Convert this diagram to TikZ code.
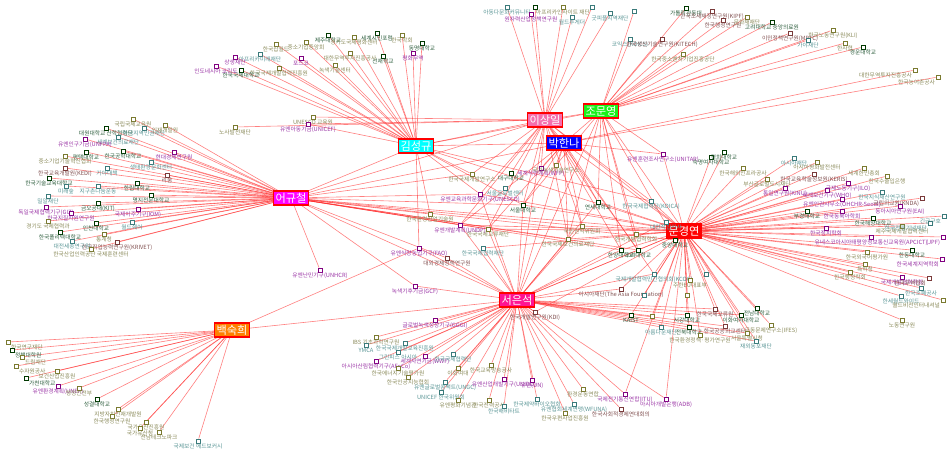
\documentclass[tikz,border=0pt]{standalone}
\usepackage{fontspec}
\setmainfont{Noto Sans CJK KR}
\usepackage{xcolor}
\usepackage{tikz}
\usetikzlibrary{positioning}
\pgfdeclarelayer{bg}
\pgfsetlayers{bg,main}
\definecolor{hubls}{HTML}{F56FAE}
\definecolor{hubmo}{HTML}{1AF01A}
\definecolor{hubks}{HTML}{00FFFF}
\definecolor{hubph}{HTML}{0000FF}
\definecolor{hubeg}{HTML}{FF00FF}
\definecolor{hubmk}{HTML}{FF0000}
\definecolor{hubse}{HTML}{FF1493}
\definecolor{hubbs}{HTML}{FF8000}
\definecolor{sqdg}{HTML}{003800}
\definecolor{sqol}{HTML}{7A7A30}
\definecolor{sqtl}{HTML}{3A7A7A}
\definecolor{sqpu}{HTML}{800080}
\definecolor{sqbr}{HTML}{7A3A3A}
\definecolor{txdg}{HTML}{2F5F3F}
\definecolor{txol}{HTML}{8A8A5A}
\definecolor{txtl}{HTML}{5A9595}
\definecolor{txpu}{HTML}{9A35A5}
\definecolor{txbr}{HTML}{805050}
\definecolor{linkred}{HTML}{FF2A2A}

\begin{document}
\begin{tikzpicture}[
  x=0.75pt, y=-0.75pt,
  hub/.style={draw=red, line width=1.1pt, text=white, inner sep=1.4pt, minimum height=10.5pt, font=\fontsize{8.4}{9}\selectfont},
  leaf/.style={draw, fill=white, minimum size=3pt, inner sep=0pt, line width=0.6pt, label distance=0pt},
  lbl/.style={font=\fontsize{4.3}{4.6}\selectfont, inner sep=0.3pt},
  dg/.style={leaf, draw=sqdg, label={[lbl, text=txdg]below:#1}},
  ol/.style={leaf, draw=sqol, label={[lbl, text=txol]below:#1}},
  tl/.style={leaf, draw=sqtl, label={[lbl, text=txtl]below:#1}},
  pu/.style={leaf, draw=sqpu, label={[lbl, text=txpu]below:#1}},
  br/.style={leaf, draw=sqbr, label={[lbl, text=txbr]below:#1}},
  conn/.style={draw=linkred, draw opacity=0.6, line width=0.45pt},
]
\useasboundingbox (0,0) rectangle (950,454);

% people
\node[hub, fill=hubls] (ls) at (545,120) {이상일};
\node[hub, fill=hubmo] (mo) at (601,111) {조문영};
\node[hub, fill=hubks] (ks) at (416,146) {김성규};
\node[hub, fill=hubph] (ph) at (564,143) {박한나};
\node[hub, fill=hubeg] (eg) at (291,198) {어규철};
\node[hub, fill=hubmk] (mk) at (684,231) {문경연};
\node[hub, fill=hubse] (se) at (517,300) {서은석};
\node[hub, fill=hubbs] (bs) at (232,330) {백숙희};

% top left
\node[dg=제주대학교] (jeju) at (328,35) {};
\node[ol=경기도국제평화센터] (gpc) at (354,37) {};
\node[dg=세계시민포럼] (wcf) at (377,33) {};
\node[ol=한국학회] (hkh) at (402,35) {};
\node[dg=동명대학교] (dm) at (422,43) {};
\node[pu=평화무역] (pw) at (413,53) {};
\node[dg=선재학교] (sj) at (383,56) {};
\node[ol=대한무역투자진흥공사] (kotra) at (350,53) {};
\node[ol=녹색기술센터] (gtc) at (335,65) {};
\node[ol=중소기업중앙회] (kbiz) at (306,42) {};
\node[ol=한국잡월드] (job) at (276,44) {};
\node[pu=포스코] (posco) at (301,58) {};
\node[tl=아프리카미래재단] (afr) at (260,54) {};
\node[ol=한국국제개발협력진흥원] (kodi) at (279,68) {};
\node[dg=한국국제대학교] (kgu) at (241,70) {};
\node[pu=상생재단] (ssf) at (235,57) {};
\node[pu=인도네시아 코린도] (kor) at (216,66) {};
\node[ol=UNESCO 교육원] (unesco) at (313,117) {};
\node[pu=유엔아동기금(UNICEF)] (unicef) at (308,124) {};
\node[ol=노사발전재단] (nosa) at (235,127) {};

% top middle
\node[tl=아동다문화커뮤니티] (adc) at (507,7) {};
\node[dg=] (hpf) at (535,7) {};
\node[pu=원자력산업정책연구원] (nipa) at (531,14) {};
\node[ol=아프리카인사이트 재단] (afrf) at (563,7) {};
\node[tl=월드투게더] (wt) at (572,17) {};
\node[tl=] (hwj) at (592,7) {};
\node[tl=굿피플지역재단] (gp) at (610,13) {};
\node[tl=] (gpd) at (634,11) {};

% top right
\node[tl=코익스(KOICS)] (koics) at (630,39) {};
\node[br=한국생산기술연구원(KITECH)] (kitech) at (662,39) {};
\node[ol=한국중소벤처기업진흥공단] (kosme) at (683,54) {};
\node[dg=가톨릭관동대] (cku) at (686,8) {};
\node[br=한국조세재정연구원(KIPF)] (kipf) at (712,11) {};
\node[br=한국행정연구원] (kipa) at (723,20) {};
\node[ol=문화재재단] (cha) at (747,17) {};
\node[dg=고려대학교 중앙의료원] (kumc) at (772,22) {};
\node[br=이민정책연구원(MRTC)] (mrtc) at (790,33) {};
\node[tl=가야재단] (gaya) at (808,40) {};
\node[ol=한국노동연구원(KLI)] (kli) at (833,30) {};
\node[ol=한사협] (ksa) at (845,43) {};
\node[dg=경운대학교] (gyu) at (863,47) {};
\node[leaf, draw=sqol, label={[lbl, text=txol]below left:대한무역투자진흥공사}] (kotra2) at (915,70) {};
\node[leaf, draw=sqol, label={[lbl, text=txol]below left:한국농어촌공사}] (krc) at (938,77) {};

% left
\node[ol=국립국제교육원] (kiec) at (133,119) {};
\node[dg=대원대학교 산학협력단] (dw) at (106,128) {};
\node[tl=한국지역인권재단] (hjr) at (144,128) {};
\node[ol=인재개발원] (idi) at (165,125) {};
\node[tl=세계보건의료재단] (wh) at (118,137) {};
\node[pu=유엔인구기금(UNFPA)] (unfpa) at (85,139) {};
\node[dg=평택대학교] (kpu) at (86,152) {};
\node[dg=한국공학대학교] (tuk) at (123,151) {};
\node[pu=현대경제연구원] (hri) at (174,152) {};
\node[ol=중소기업기술혁신협회] (smba) at (65,156) {};
\node[tl=생태환경문화센터] (ecoc) at (151,162) {};
\node[br=한국교육개발원(KEDI)] (kedi) at (65,168) {};
\node[tl=기아대책] (kfhi) at (107,168) {};
\node[dg=한국기술교육대학교] (ktech) at (49,178) {};
\node[br=리움] (leeum) at (167,175) {};
\node[tl=지구촌나눔운동] (gcs) at (98,186) {};
\node[tl=미래숲] (mirae) at (66,186) {};
\node[dg=한림대학교] (hallym) at (137,183) {};
\node[tl=밀알재단] (miral) at (48,196) {};
\node[dg=명지전문대학교] (mjc) at (151,195) {};
\node[dg=금오공대(KIT)] (kit) at (98,203) {};
\node[pu=독일국제협력기구(GIZ)] (giz) at (46,207) {};
\node[pu=한국지질자원연구원] (kigam) at (71,213) {};
\node[pu=국제이주기구(IOM)] (iom) at (138,209) {};
\node[ol=경기도 국제협력과] (ggi) at (48,221) {};
\node[dg=인천대학교] (inu) at (96,223) {};
\node[tl=월드쉐어] (ws) at (132,222) {};
\node[dg=한국폴리텍대학교] (poly) at (60,232) {};
\node[ol=통계청] (kostat) at (104,234) {};
\node[br=한국직업능력연구원(KRIVET)] (krivet) at (117,242) {};
\node[tl=대전세종연구원] (djs) at (72,241) {};
\node[ol=한국산업인력공단 국제훈련센터] (hrd) at (91,249) {};

% bottom left
\node[leaf, draw=sqol, label={[lbl, text=txol]below right:한국연구재단}] (nrf) at (8,342) {};
\node[leaf, draw=sqdg, label={[lbl, text=txdg]below right:정책대학원}] (gsp) at (12,350) {};
\node[leaf, draw=sqol, label={[lbl, text=txol]below right:드림재단}] (dream) at (22,357) {};
\node[leaf, draw=sqol, label={[lbl, text=txol]below right:수자원공사}] (kwater) at (16,366) {};
\node[ol=보건산업진흥원] (khidi) at (57,371) {};
\node[leaf, draw=sqdg, label={[lbl, text=txdg]below right:가천대학교}] (gachon) at (26,378) {};
\node[pu=유엔환경계획(UNEP)] (unep) at (58,386) {};
\node[ol=행정안전부] (mois) at (79,388) {};
\node[dg=성결대학교] (sgu) at (97,399) {};
\node[ol=지방자치인재개발원] (lodi) at (118,409) {};
\node[ol=한국행정연구원] (kipa2) at (112,416) {};
\node[ol=국가유산진흥원] (khf) at (146,422) {};
\node[ol=국가유산청] (khs) at (140,428) {};
\node[ol=전남테크노파크] (jtp) at (159,432) {};
\node[tl=국제보건 에드보커시] (gha) at (198,441) {};

% bottom middle
\node[pu=글로벌녹색성장기구(GGGI)] (gggi) at (435,320) {};
\node[ol=IBS 기초과학연구원] (ibs) at (376,337) {};
\node[tl=YMCA] (ymca) at (366,345) {};
\node[tl=한국국제개발교육진흥원] (kidep) at (405,343) {};
\node[tl=그린피스 아시아] (gpa) at (398,352) {};
\node[pu=세계자연기금(WWF)] (wwf) at (425,356) {};
\node[pu=아시아산림협력기구(AFoCo)] (afoco) at (376,361) {};
\node[tl=한국국제협력단] (koica2) at (453,354) {};
\node[ol=이화여대] (ewha) at (458,368) {};
\node[ol=한국에너지기술평가원] (ketep) at (398,368) {};
\node[ol=한국인공지능협회] (kaia) at (408,377) {};
\node[tl=유엔글로벌콤팩트(UNGC)] (ungc) at (445,382) {};
\node[tl=UNICEF 한국위원회] (unicefk) at (441,392) {};
\node[br=한국개발연구원(KDI)] (kdi) at (535,312) {};
\node[ol=한국교육방송공사] (ebs) at (491,365) {};
\node[pu=유엔산업개발기구(UNIDO)] (unido) at (504,379) {};
\node[pu=유엔(UN)] (un) at (532,380) {};
\node[ol=한국전력공사] (kepco) at (489,400) {};
\node[tl=한국해비타트] (habitat) at (504,406) {};
\node[tl=한국제약바이오협회] (kpbma) at (537,399) {};
\node[ol=환경운동연합] (kfem) at (583,389) {};
\node[tl=유엔협회세계연맹(WFUNA)] (wfuna) at (574,404) {};
\node[ol=한국우편사업진흥원] (kpost) at (565,413) {};
\node[ol=유엔평화기념관] (unpm) at (458,400) {};
\node[br=한국사회적경제연대회의] (kseri) at (621,409) {};
\node[pu=국제전기통신연합(ITU)] (itu) at (625,394) {};
\node[pu=아시아개발은행(ADB)] (adb) at (666,399) {};

% center
\node[pu=유엔훈련조사연구소(UNITAR)] (unitar) at (663,154) {};
\node[dg=숙명여자대학교] (smwu) at (711,157) {};
\node[pu=세계식량계획(WFP)] (wfp) at (541,168) {};
\node[ol=국가녹색기술연구소] (ngtc) at (556,165) {};
\node[dg=대구대학교] (dgu) at (511,173) {};
\node[ol=한국국제개발연구소] (kidi) at (472,174) {};
\node[tl=서울글로벌센터] (sgc) at (505,188) {};
\node[pu=유엔교육과학문화기구(UNESCO)] (unesco2) at (480,194) {};
\node[dg=서울대학교] (snu) at (523,205) {};
\node[dg=연세대학교] (yonsei) at (598,202) {};
\node[tl=한국국제협력단(KOICA)] (koica) at (651,201) {};
\node[tl=대한적십자사] (redc) at (666,222) {};
\node[ol=국민권익위원회] (acrc) at (582,226) {};
\node[ol=한국국제교류재단] (kf) at (488,229) {};
\node[ol=한국국제보건의료재단] (kofih) at (568,239) {};
\node[ol=한국개발협력학회] (kadc) at (636,234) {};
\node[dg=중앙대학교] (cau) at (675,240) {};
\node[dg=한양대학교] (hyu) at (621,250) {};
\node[dg=고려대학교] (ku) at (638,250) {};
\node[tl=한국국제협력재단] (kicf) at (483,248) {};
\node[ol=한국환경산업기술원] (keiti) at (430,214) {};
\node[pu=유엔개발계획(UNDP)] (undp) at (460,225) {};
\node[pu=유엔식량농업기구(FAO)] (fao) at (419,248) {};
\node[br=대외경제정책연구원] (kiep) at (447,258) {};
\node[pu=유엔난민기구(UNHCR)] (unhcr) at (320,270) {};
\node[pu=녹색기후기금(GCF)] (gcf) at (415,286) {};
\node[tl=국제개발협력민간협의회(KCOC)] (kcoc) at (654,274) {};
\node[ol=주한EU대표부] (euk) at (690,280) {};
\node[tl=] (kfa) at (706,274) {};
\node[br=아시아재단(The Asia Foundation)] (asiaf) at (621,289) {};
\node[tl=] (tlc) at (644,295) {};
\node[ol=] (olc) at (687,295) {};

% bottom right
\node[dg=KAIST] (kaist) at (631,315) {};
\node[ol=] (olb) at (652,316) {};
\node[dg=서강대학교] (sogang) at (687,315) {};
\node[dg=전북대학교] (jbnu) at (689,327) {};
\node[tl=아름다운재단] (beauty) at (661,327) {};
\node[ol=한국환경정책·평가연구원] (kei) at (700,335) {};
\node[br=한국국제교류원] (kie) at (715,309) {};
\node[dg=전남대학교] (jnu) at (757,308) {};
\node[dg=이화여자대학교] (ewha2) at (741,315) {};
\node[br=한국공공외교센터] (kpd) at (725,326) {};
\node[ol=극동문제연구소(IFES)] (ifes) at (771,325) {};
\node[ol=서울특별시청] (seoul) at (747,333) {};
\node[tl=재외동포재단] (okf) at (756,341) {};

% right
\node[dg=경희대학교] (khu) at (724,152) {};
\node[ol=한국해외인프라공사] (kind) at (743,168) {};
\node[ol=부산글로벌도시재단] (bgf) at (767,179) {};
\node[tl=아시아재단] (taf) at (794,158) {};
\node[ol=아시아평화발전센터] (apdc) at (817,162) {};
\node[br=한국교육학술정보원(KERIS)] (keris) at (814,174) {};
\node[ol=세계한인총회] (wkc) at (864,168) {};
\node[ol=한국수출입은행] (kexim) at (887,176) {};
\node[pu=통일연구원(KINU)] (kinu) at (785,188) {};
\node[pu=세계보건기구(WHO)] (who) at (827,190) {};
\node[pu=국제노동기구(ILO)] (ilo) at (848,183) {};
\node[tl=한국지식재산연구원] (kiip) at (882,192) {};
\node[pu=유엔인권사무소(OHCHR-Seoul)] (ohchr) at (842,199) {};
\node[leaf, draw=sqbr, label={[lbl, text=txbr]below left:국립외교원(KNDA)}] (knda) at (922,198) {};
\node[pu=동아시아연구원(EAI)] (eai) at (900,206) {};
\node[dg=부경대학교] (pknu) at (807,211) {};
\node[pu=한국동북아학회] (kanea) at (842,211) {};
\node[leaf, draw=sqtl, label={[lbl, text=txtl]below left:긴급구호}] (emr) at (944,216) {};
\node[dg=한국해양대학교] (kmou) at (873,218) {};
\node[ol=제주국제개발협력센터] (jcc) at (902,226) {};
\node[leaf, draw=sqtl, label={[lbl, text=txtl]below left:한국전쟁기념재단}] (kwmf) at (930,223) {};
\node[pu=한국정치학회] (kpsa) at (826,228) {};
\node[pu=유네스코아시아태평양정보통신교육원(APCICT)] (apcict) at (871,237) {};
\node[leaf, draw=sqpu, label={[lbl, text=txpu]below left:(JPF)}] (jpf) at (943,237) {};
\node[ol=한국외국어평가원] (kfla) at (867,252) {};
\node[dg=한동대학교] (hgu) at (912,250) {};
\node[leaf, draw=sqpu, label={[lbl, text=txpu]below left:한국세계지역학회}] (kawa) at (942,259) {};
\node[ol=특허청] (kipo) at (865,264) {};
\node[ol=한국행정학회] (kapa) at (850,272) {};
\node[pu=국제개발협력학회] (kaidc) at (902,277) {};
\node[leaf, draw=sqbr, label={[lbl, text=txbr]below left:한국무역협회}] (kita) at (929,278) {};
\node[tl=한국조폐공사] (komsco) at (921,288) {};
\node[tl=한세월드와이드] (hansae) at (901,296) {};
\node[leaf, draw=sqol, label={[lbl, text=txol]below left:월드비전인터내셔널}] (wvi) at (943,300) {};
\node[ol=노동연구원] (kli2) at (902,320) {};

\begin{pgfonlayer}{bg}
\path[conn] (ks) edge (jeju) edge (gpc) edge (wcf) edge (hkh) edge (dm) edge (pw) edge (sj)
  edge (kotra) edge (gtc) edge (kbiz) edge (job) edge (posco) edge (afr) edge (kodi) edge (kgu)
  edge (ssf) edge (kor) edge (unicef) edge (ls) edge (mo) edge (mk) edge (ph) edge (kidi) edge (snu)
  edge (keiti) edge (fao) edge (koica) edge (unesco2);
\path[conn] (ls) edge (adc) edge (hpf) edge (nipa) edge (afrf) edge (wt) edge (hwj) edge (gp)
  edge (unesco) edge (nosa) edge (unicef) edge (mo) edge (ph) edge (mk) edge (se) edge (wfp)
  edge (unesco2) edge (snu) edge (yonsei) edge (dgu) edge (kidi) edge (undp) edge (kofih) edge (hyu)
  edge (ku) edge (acrc) edge (koica) edge (kf);
\path[conn] (mo) edge (gpd) edge (koics) edge (kitech) edge (kosme) edge (cku) edge (kipf)
  edge (kipa) edge (cha) edge (kumc) edge (mrtc) edge (gaya) edge (kli) edge (ksa) edge (gyu)
  edge (ph) edge (mk) edge (unitar) edge (yonsei) edge (snu) edge (kofih) edge (hyu) edge (ku)
  edge (kadc) edge (se) edge (cau);
\path[conn] (ph) edge (kotra2) edge (krc) edge (unitar) edge (wfp) edge (ngtc) edge (yonsei)
  edge (snu) edge (mk) edge (se) edge (kf) edge (undp) edge (kofih) edge (acrc) edge (kcoc) edge (eg);
\path[conn] (eg) edge (kiec) edge (dw) edge (hjr) edge (idi) edge (wh) edge (unfpa) edge (kpu)
  edge (tuk) edge (hri) edge (smba) edge (ecoc) edge (kedi) edge (kfhi) edge (ktech) edge (leeum)
  edge (gcs) edge (mirae) edge (hallym) edge (miral) edge (mjc) edge (kit) edge (giz) edge (kigam)
  edge (iom) edge (ggi) edge (inu) edge (ws) edge (poly) edge (kostat) edge (krivet) edge (djs)
  edge (hrd) edge (ks) edge (ls) edge (mk) edge (se) edge (kidi) edge (unesco2) edge (snu) edge (keiti)
  edge (undp) edge (kf) edge (unhcr) edge (gcf) edge (acrc) edge (hyu) edge (ku) edge (kofih)
  edge (kiep) edge (cau);
\path[conn] (mk) edge (unitar) edge (smwu) edge (yonsei) edge (koica) edge (redc)
  edge (acrc) edge (kofih) edge (kadc) edge (cau) edge (hyu) edge (ku) edge (kcoc) edge (euk)
  edge (kfa) edge (asiaf) edge (tlc) edge (olc) edge (kaist) edge (olb) edge (sogang) edge (jbnu)
  edge (beauty) edge (kei) edge (kie) edge (jnu) edge (ewha2) edge (kpd) edge (ifes) edge (seoul)
  edge (okf) edge (khu) edge (kind) edge (bgf) edge (taf) edge (apdc) edge (keris) edge (wkc)
  edge (kexim) edge (kinu) edge (who) edge (ilo) edge (kiip) edge (ohchr) edge (knda) edge (eai)
  edge (pknu) edge (kanea) edge (emr) edge (kmou) edge (jcc) edge (kwmf) edge (kpsa) edge (apcict)
  edge (jpf) edge (kfla) edge (hgu) edge (kawa) edge (kipo) edge (kapa) edge (kaidc) edge (kita)
  edge (komsco) edge (hansae) edge (wvi) edge (kli2) edge (snu) edge (unesco2) edge (se) edge (kf)
  edge (kicf) edge (undp) edge (adb) edge (itu) edge (kdi);
\path[conn] (se) edge (gggi) edge (ibs) edge (ymca) edge (kidep) edge (gpa) edge (wwf) edge (afoco)
  edge (koica2) edge (ewha) edge (ketep) edge (kaia) edge (ungc) edge (unicefk) edge (kdi) edge (ebs)
  edge (unido) edge (un) edge (kepco) edge (habitat) edge (kpbma) edge (kfem) edge (wfuna)
  edge (kpost) edge (unpm) edge (kseri) edge (itu) edge (adb) edge (gcf) edge (kiep) edge (undp)
  edge (fao) edge (kicf) edge (kf) edge (snu) edge (unesco2) edge (yonsei) edge (kcoc) edge (asiaf)
  edge (kaist) edge (olb) edge (sogang) edge (jbnu) edge (beauty) edge (kofih) edge (hyu) edge (ku)
  edge (acrc) edge (kie) edge (ewha2) edge (kpd) edge (seoul) edge (okf) edge (bs) edge (redc);
\path[conn] (bs) edge (nrf) edge (gsp) edge (dream) edge (kwater) edge (khidi) edge (gachon)
  edge (unep) edge (mois) edge (sgu) edge (lodi) edge (kipa2) edge (khf) edge (khs) edge (jtp)
  edge (gha) edge (fao);
\end{pgfonlayer}
\end{tikzpicture}
\end{document}
